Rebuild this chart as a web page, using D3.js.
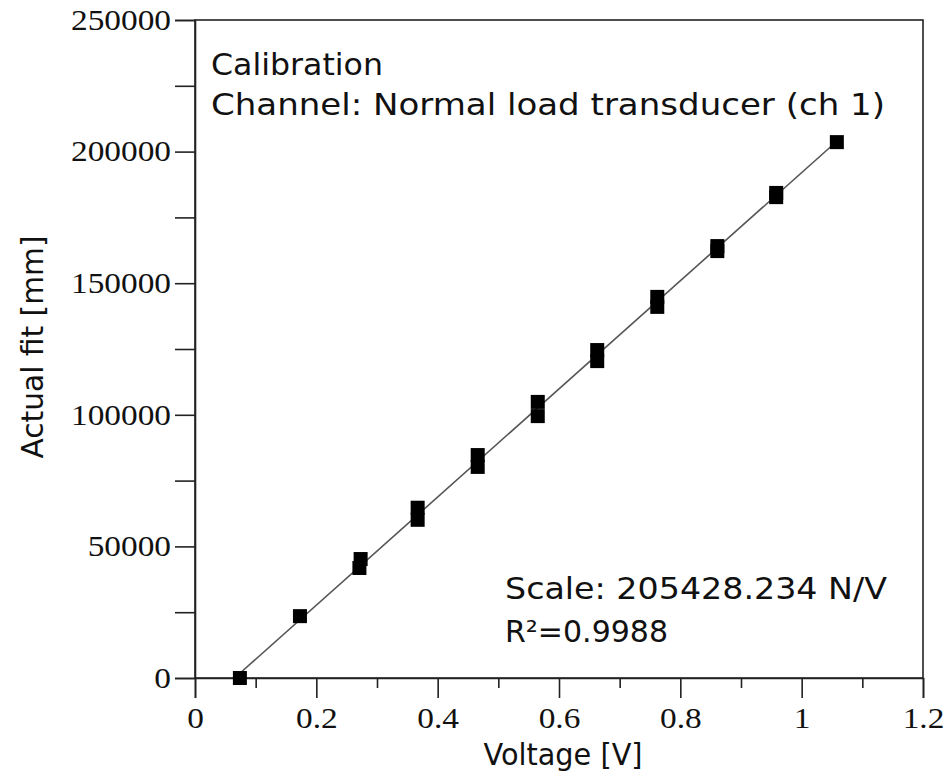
<!DOCTYPE html>
<html>
<head>
<meta charset="utf-8">
<script src="https://cdn.jsdelivr.net/npm/d3@7"></script>
<style>
  html, body { margin: 0; padding: 0; background: #fff; }
  svg { display: block; }
  .tick text { font-family: "Liberation Serif", "Times New Roman", serif; fill: #111; }
  .note { font-family: "DejaVu Sans", sans-serif; fill: #111; }
</style>
</head>
<body>
<svg id="chart" width="950" height="777"></svg>
<script>
// Calibration measurements: transducer voltage vs. applied load
const voltage = [0.074, 0.173, 0.273, 0.271, 0.367, 0.367, 0.466, 0.466, 0.565, 0.565,
                 0.663, 0.663, 0.762, 0.762, 0.861, 0.861, 0.958, 0.958, 1.058];
const load    = [0, 23500, 45200, 41800, 64700, 60100, 84700, 80200, 104900, 99500,
                 124600, 120400, 144800, 141000, 164100, 162200, 184300, 182700, 203600];

const slope = 205428.234;      // N/V
const rSquared = "0.9988";

const xMajorTicks = [0, 0.2, 0.4, 0.6, 0.8, 1, 1.2];
const xMinorTicks = [0.1, 0.3, 0.5, 0.7, 0.9, 1.1];
const yMajorTicks = [0, 50000, 100000, 150000, 200000, 250000];
const yMinorTicks = [25000, 75000, 125000, 175000, 225000];

const svg = d3.select("#chart");
const plot = { left: 195, right: 923, top: 20, bottom: 678 };

const x = d3.scaleLinear().domain([0, 1.2]).range([plot.left, plot.right]);
const y = d3.scaleLinear().domain([0, 250000]).range([plot.bottom, plot.top]);

// frame
svg.append("rect")
  .attr("x", plot.left).attr("y", plot.top)
  .attr("width", plot.right - plot.left).attr("height", plot.bottom - plot.top)
  .attr("fill", "none").attr("stroke", "#222").attr("stroke-width", 1.6);

const labelStretch = 1.15;

// x axis
const xAxis = svg.append("g").attr("transform", `translate(0,${plot.bottom})`)
  .call(d3.axisBottom(x).tickValues(xMajorTicks).tickSize(20).tickPadding(9)
        .tickFormat(d3.format("")));
svg.append("g").attr("transform", `translate(0,${plot.bottom})`)
  .call(d3.axisBottom(x).tickValues(xMinorTicks).tickSize(10).tickFormat(""))
  .call(g => g.select(".domain").remove());

// y axis
const yAxis = svg.append("g").attr("transform", `translate(${plot.left},0)`)
  .call(d3.axisLeft(y).tickValues(yMajorTicks.concat(yMinorTicks)).tickSize(20).tickPadding(4)
        .tickFormat(d => yMajorTicks.includes(d) ? d3.format("d")(d) : ""));

svg.selectAll(".domain").attr("stroke", "#222").attr("stroke-width", 1.6);
svg.selectAll(".tick line").attr("stroke", "#222").attr("stroke-width", 1.6);

xAxis.selectAll(".tick text")
  .attr("font-size", 29)
  .attr("transform", `scale(${labelStretch},1)`);
yAxis.selectAll(".tick text")
  .attr("font-size", 29)
  .attr("x", -24 / labelStretch)
  .attr("transform", `scale(${labelStretch},1)`);

// fitted calibration line (least-squares intercept for the given slope)
const intercept = d3.mean(load) - slope * d3.mean(voltage);
const xFit = d3.extent(voltage);
const fitLine = d3.line().x(d => x(d)).y(d => y(slope * d + intercept));
svg.append("path")
  .datum(xFit)
  .attr("d", fitLine)
  .attr("fill", "none")
  .attr("stroke", "#555")
  .attr("stroke-width", 1.6);

// measured points
const size = 14;
svg.append("g").selectAll("rect")
  .data(voltage.map((v, i) => [v, load[i]]))
  .join("rect")
  .attr("x", d => x(d[0]) - size / 2)
  .attr("y", d => y(d[1]) - size / 2)
  .attr("width", size).attr("height", size)
  .attr("fill", "#000");

// annotations
function note(txt, px, py, len) {
  svg.append("text").attr("class", "note")
    .attr("x", px).attr("y", py)
    .attr("font-size", 30)
    .attr("textLength", len).attr("lengthAdjust", "spacingAndGlyphs")
    .text(txt);
}
note("Calibration", 211, 75, 172);
note("Channel: Normal load transducer (ch 1)", 211, 115, 674);
note(`Scale: ${slope} N/V`, 505, 599, 382);
note(`R\u00B2=${rSquared}`, 505, 642, 163);

// axis titles
svg.append("text").attr("class", "note")
  .attr("x", 563).attr("y", 765)
  .attr("text-anchor", "middle")
  .attr("font-size", 30)
  .attr("textLength", 159).attr("lengthAdjust", "spacingAndGlyphs")
  .text("Voltage [V]");

svg.append("text").attr("class", "note")
  .attr("transform", "translate(43,347) rotate(-90)")
  .attr("text-anchor", "middle")
  .attr("font-size", 30)
  .attr("textLength", 223).attr("lengthAdjust", "spacingAndGlyphs")
  .text("Actual fit [mm]");
</script>
</body>
</html>
